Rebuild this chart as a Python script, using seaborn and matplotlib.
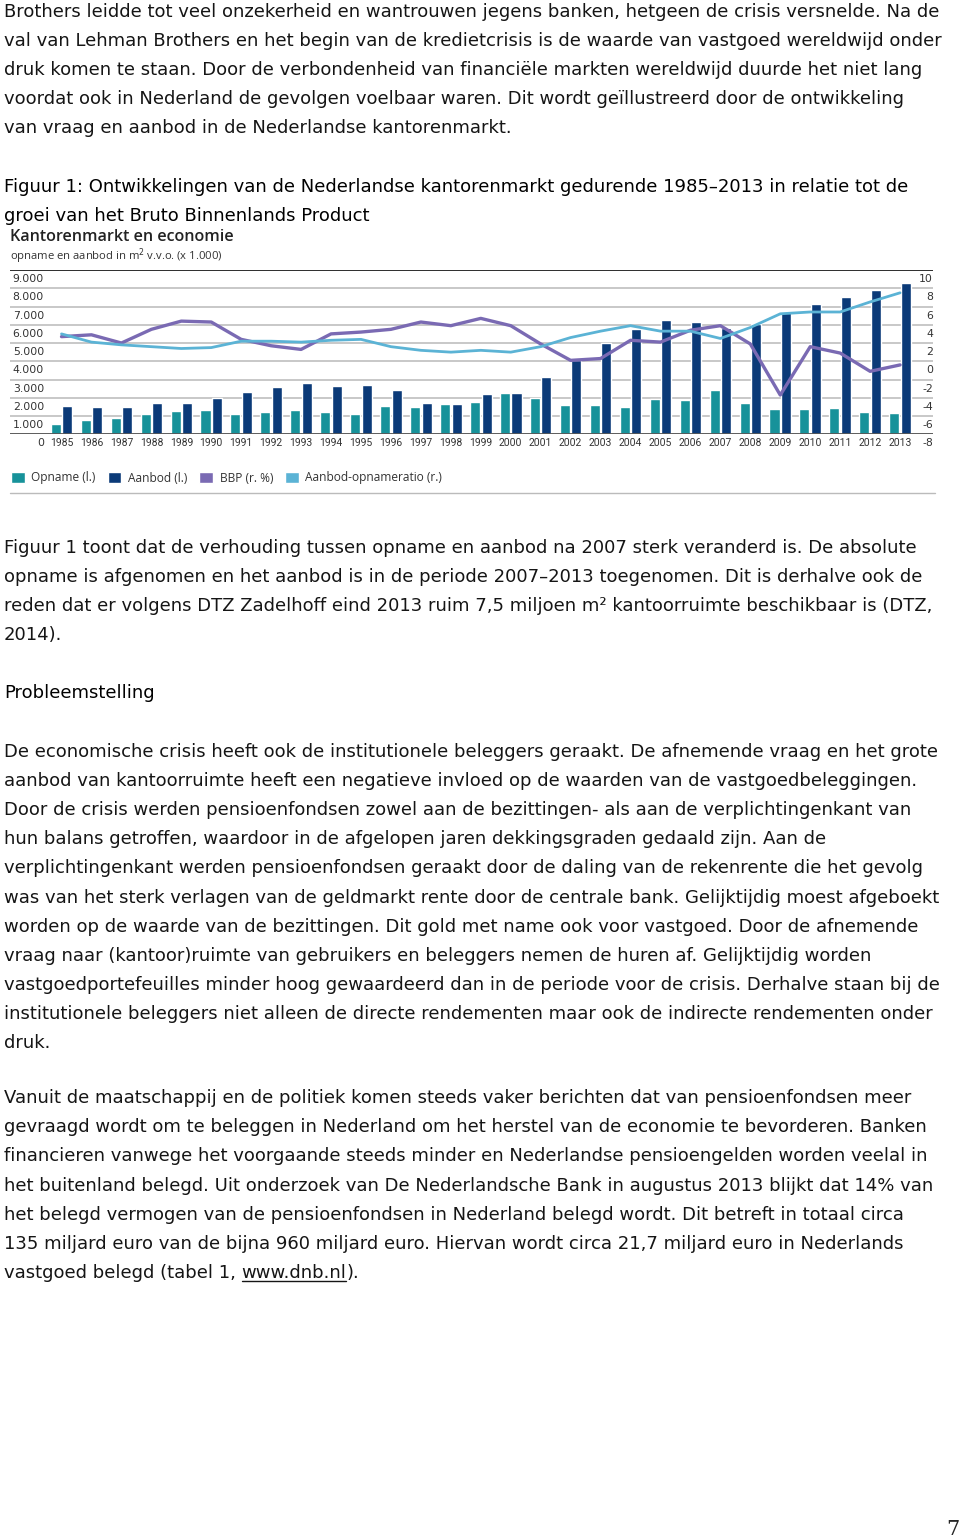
import matplotlib
matplotlib.use('Agg')
import matplotlib.pyplot as plt
import seaborn as sn
import pandas as pd
import numpy as np
from matplotlib.patches import Patch
from matplotlib.lines import Line2D

# data
jaren = [str(j) for j in range(1985, 2014)]
opname = [550, 780, 880, 1100, 1300, 1330, 1130, 1200, 1330, 1200, 1090, 1570, 1510, 1640,
          1790, 2240, 1990, 1590, 1590, 1510, 1930, 1880, 2410, 1730, 1390, 1390, 1440, 1240, 1150]
aanbod = [1570, 1510, 1510, 1700, 1730, 2000, 2340, 2570, 2810, 2660, 2700, 2430, 1720, 1640,
          2190, 2280, 3120, 4070, 4980, 5770, 6240, 6170, 5840, 6020, 6720, 7150, 7520, 7900, 8270]
bbp = [2.7, 2.9, 2.0, 3.5, 4.4, 4.3, 2.4, 1.7, 1.3, 3.0, 3.2, 3.5, 4.3, 3.9, 4.7, 3.9, 1.9,
       0.1, 0.3, 2.3, 2.1, 3.4, 3.9, 1.9, -3.7, 1.6, 0.9, -1.1, -0.4]
ratio = [3.0, 2.1, 1.8, 1.6, 1.4, 1.5, 2.2, 2.2, 2.1, 2.3, 2.4, 1.6, 1.2, 1.0, 1.2, 1.0, 1.6,
         2.6, 3.3, 3.9, 3.3, 3.3, 2.5, 3.7, 5.2, 5.4, 5.4, 6.5, 7.5]
links_ticks = [0, 1000, 2000, 3000, 4000, 5000, 6000, 7000, 8000, 9000]
links_labels = ['0', '1.000', '2.000', '3.000', '4.000', '5.000', '6.000', '7.000', '8.000', '9.000']
rechts_ticks = [-8, -6, -4, -2, 0, 2, 4, 6, 8, 10]
reeksen = ['Opname (l.)', 'Aanbod (l.)', 'BBP (r. %)', 'Aanbod-opnameratio (r.)']

kleuren = {'teal': '#17929a', 'navy': '#0b3a78', 'paars': '#7a6ab3', 'lichtblauw': '#5bb3d5'}

tekst_boven = [
    "Brothers leidde tot veel onzekerheid en wantrouwen jegens banken, hetgeen de crisis versnelde. Na de",
    "val van Lehman Brothers en het begin van de kredietcrisis is de waarde van vastgoed wereldwijd onder",
    "druk komen te staan. Door de verbondenheid van financiële markten wereldwijd duurde het niet lang",
    "voordat ook in Nederland de gevolgen voelbaar waren. Dit wordt geïllustreerd door de ontwikkeling",
    "van vraag en aanbod in de Nederlandse kantorenmarkt.",
]
bijschrift = [
    "Figuur 1: Ontwikkelingen van de Nederlandse kantorenmarkt gedurende 1985–2013 in relatie tot de",
    "groei van het Bruto Binnenlands Product",
]
tekst_na = [
    "Figuur 1 toont dat de verhouding tussen opname en aanbod na 2007 sterk veranderd is. De absolute",
    "opname is afgenomen en het aanbod is in de periode 2007–2013 toegenomen. Dit is derhalve ook de",
    "reden dat er volgens DTZ Zadelhoff eind 2013 ruim 7,5 miljoen m² kantoorruimte beschikbaar is (DTZ,",
    "2014).",
]
kop = "Probleemstelling"
alinea_1 = [
    "De economische crisis heeft ook de institutionele beleggers geraakt. De afnemende vraag en het grote",
    "aanbod van kantoorruimte heeft een negatieve invloed op de waarden van de vastgoedbeleggingen.",
    "Door de crisis werden pensioenfondsen zowel aan de bezittingen- als aan de verplichtingenkant van",
    "hun balans getroffen, waardoor in de afgelopen jaren dekkingsgraden gedaald zijn. Aan de",
    "verplichtingenkant werden pensioenfondsen geraakt door de daling van de rekenrente die het gevolg",
    "was van het sterk verlagen van de geldmarkt rente door de centrale bank. Gelijktijdig moest afgeboekt",
    "worden op de waarde van de bezittingen. Dit gold met name ook voor vastgoed. Door de afnemende",
    "vraag naar (kantoor)ruimte van gebruikers en beleggers nemen de huren af. Gelijktijdig worden",
    "vastgoedportefeuilles minder hoog gewaardeerd dan in de periode voor de crisis. Derhalve staan bij de",
    "institutionele beleggers niet alleen de directe rendementen maar ook de indirecte rendementen onder",
    "druk.",
]
alinea_2 = [
    "Vanuit de maatschappij en de politiek komen steeds vaker berichten dat van pensioenfondsen meer",
    "gevraagd wordt om te beleggen in Nederland om het herstel van de economie te bevorderen. Banken",
    "financieren vanwege het voorgaande steeds minder en Nederlandse pensioengelden worden veelal in",
    "het buitenland belegd. Uit onderzoek van De Nederlandsche Bank in augustus 2013 blijkt dat 14% van",
    "het belegd vermogen van de pensioenfondsen in Nederland belegd wordt. Dit betreft in totaal circa",
    "135 miljard euro van de bijna 960 miljard euro. Hiervan wordt circa 21,7 miljard euro in Nederlands",
]
laatste_pre = "vastgoed belegd (tabel 1, "
laatste_link = "www.dnb.nl"
laatste_post = ")."

W, H = 960, 1539
sn.set_style('white')
plt.rcParams['font.family'] = ['DejaVu Sans']
fig = plt.figure(figsize=(W / 100, H / 100), dpi=100)
fy = lambda y: 1 - y / H
fx = lambda x: x / W

body = dict(fontsize=13.0, color='#151515', va='baseline', ha='left', family='DejaVu Sans')

def regels(lines, y0, step=29.1, **kw):
    opts = dict(body)
    opts.update(kw)
    for i, s in enumerate(lines):
        fig.text(fx(4), fy(y0 + i * step), s, **opts)

regels(tekst_boven, 17)
regels(bijschrift, 192, color='#000000')
regels(tekst_na, 553)
regels([kop], 698, color='#000000')
regels(alinea_1, 757)
regels(alinea_2, 1103, step=29.17)

# last line with underlined link
yl = 1103 + 6 * 29.17
r = fig.canvas.get_renderer()
t1 = fig.text(fx(4), fy(yl), laatste_pre, **body)
w1 = t1.get_window_extent(r).width
t2 = fig.text(fx(4) + w1 / W, fy(yl), laatste_link, **body)
w2 = t2.get_window_extent(r).width
fig.text(fx(4) + (w1 + w2) / W, fy(yl), laatste_post, **body)
fig.add_artist(Line2D([fx(4) + w1 / W, fx(4) + (w1 + w2) / W], [fy(yl + 3), fy(yl + 3)],
                      transform=fig.transFigure, color='#151515', lw=1.0))

fig.text(fx(960), fy(1535), '7', fontsize=15, family='DejaVu Serif', ha='right', va='baseline')

# chart
cf = 'Open Sans'
fig.text(fx(10), fy(237), 'Kantorenmarkt en economie', fontsize=11.6, family=cf,
         color='#222222', va='center', fontweight='semibold')
fig.text(fx(10), fy(256), 'opname en aanbod in m$^2$ v.v.o. (x 1.000)', fontsize=8.1,
         family=cf, color='#333333', va='center')

ax_l, ax_r, ax_t, ax_b = 10, 933, 270, 434.3
ax = fig.add_axes([fx(ax_l), fy(ax_b), (ax_r - ax_l) / W, (ax_b - ax_t) / H])

df = pd.DataFrame({'jaar': jaren, 'Opname (l.)': opname, 'Aanbod (l.)': aanbod})
df = df.melt(id_vars='jaar', var_name='reeks', value_name='waarde')
sn.barplot(data=df, x='jaar', y='waarde', hue='reeks', ax=ax,
           palette=[kleuren['teal'], kleuren['navy']], width=0.77, gap=0.13,
           saturation=1, legend=False)

ax.set_ylim(0, 9000)
ax.set_xlim(-1.72, 29.10)
ax.set_yticks(links_ticks)
ax.grid(axis='y', color='#c4c4c4', lw=1.3)
ax.set_axisbelow(True)
ax.axhline(9000, color='#222222', lw=1.3)
ax.axhline(0, color='#555555', lw=1.3)
for s in ax.spines.values():
    s.set_visible(False)
ax.tick_params(axis='y', length=0, labelleft=False)
ax.tick_params(axis='x', length=0, pad=3, labelsize=7.5, labelcolor='#333333')
for lab in ax.get_xticklabels():
    lab.set_family('Roboto')
ax.set_xlabel(None)
ax.set_ylabel(None)

for v, s in zip(links_ticks, links_labels):
    ax.annotate(s, (34 / (ax_r - ax_l), v), xycoords=ax.get_yaxis_transform(),
                xytext=(0, -6.5), textcoords='offset points', ha='right', va='center',
                fontsize=7.8, family='DejaVu Sans', color='#333333')

ax2 = ax.twinx()
ax2.set_ylim(-8, 10)
x_idx = np.arange(len(jaren))
sn.lineplot(x=x_idx, y=bbp, ax=ax2, color=kleuren['paars'], lw=2.4)
sn.lineplot(x=x_idx, y=ratio, ax=ax2, color=kleuren['lichtblauw'], lw=2.0)
ax2.set_xlim(-1.72, 29.10)
ax2.set_yticks([])
for s in ax2.spines.values():
    s.set_visible(False)
for v in rechts_ticks:
    ax2.annotate(str(v), (1.0, v), xycoords=ax2.get_yaxis_transform(),
                 xytext=(0, -6.5), textcoords='offset points', ha='right', va='center',
                 fontsize=7.8, family='DejaVu Sans', color='#333333')

handles = [Patch(facecolor=kleuren[k]) for k in ['teal', 'navy', 'paars', 'lichtblauw']]
fig.legend(handles, reeksen, loc='center left', bbox_to_anchor=(fx(11), fy(478)), ncol=4,
           frameon=False, handlelength=1.15, handleheight=1.15, handletextpad=0.55,
           columnspacing=1.0, prop={'family': cf, 'size': 8.6}, labelcolor='#333333',
           borderaxespad=0, borderpad=0)
fig.add_artist(Line2D([fx(10), fx(935)], [fy(493), fy(493)], transform=fig.transFigure,
                      color='#bbbbbb', lw=1.0))

fig.savefig('out.png', dpi=100)
